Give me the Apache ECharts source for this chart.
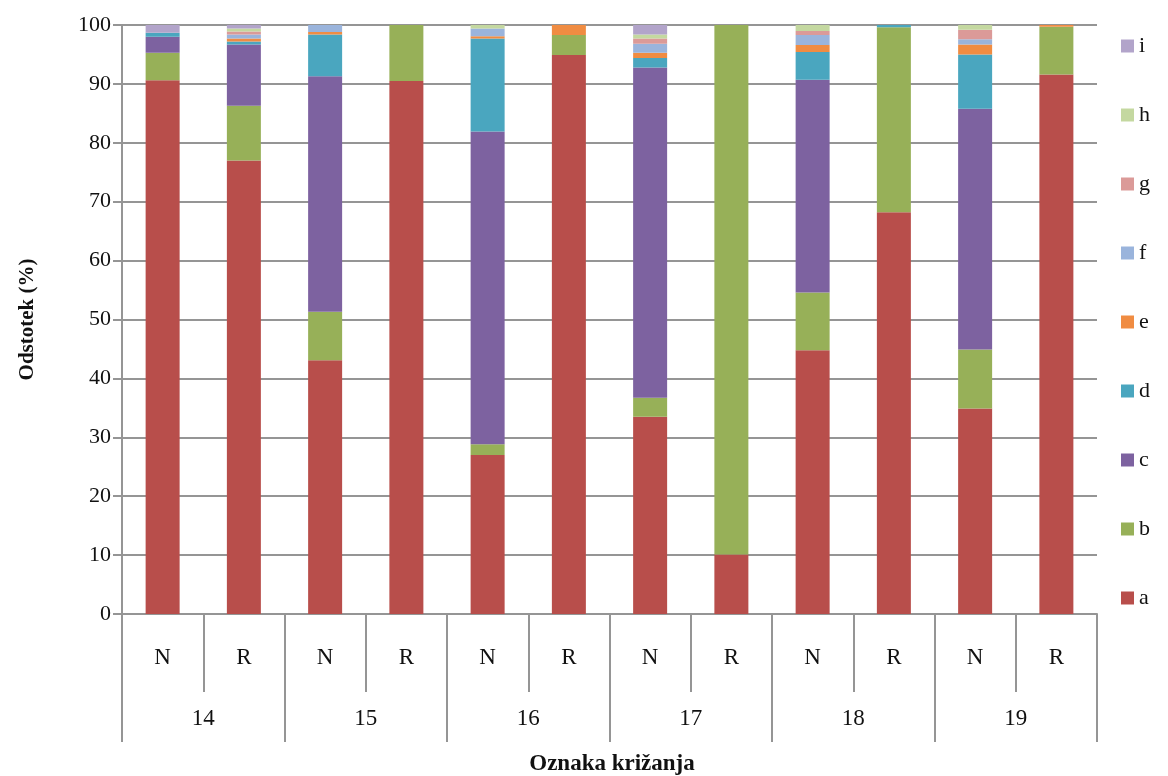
<!DOCTYPE html>
<html>
<head>
<meta charset="utf-8">
<script src="https://cdn.jsdelivr.net/npm/echarts@6/dist/echarts.min.js"></script>
<style>
  html, body { margin: 0; padding: 0; background: #fff; }
  #chart { width: 1168px; height: 776px; }
</style>
</head>
<body>
<div id="chart"></div>
<script>
// Category labels: treatment (N/R) within each cross (14–19)
const categories = ['N', 'R', 'N', 'R', 'N', 'R', 'N', 'R', 'N', 'R', 'N', 'R'];
const groups = ['14', '15', '16', '17', '18', '19'];
const yTicks = [0, 10, 20, 30, 40, 50, 60, 70, 80, 90, 100];

// Share (%) of each class per bar
const a = [90.6, 77.0, 43.1, 90.5, 27.0, 94.9, 33.5, 10.1, 44.8, 68.2, 34.9, 91.6];
const b = [4.7, 9.3, 8.2, 9.5, 1.8, 3.4, 3.2, 89.9, 9.8, 31.4, 10.0, 8.1];
const c = [2.7, 10.4, 40.0, 0, 53.1, 0, 56.1, 0, 36.1, 0, 40.9, 0];
const d = [0.7, 0.5, 7.1, 0, 15.8, 0, 1.6, 0, 4.7, 0.4, 9.2, 0];
const e = [0, 0.5, 0.4, 0, 0.4, 1.7, 0.9, 0, 1.2, 0, 1.7, 0.3];
const f = [0, 0.7, 1.2, 0, 1.3, 0, 1.5, 0, 1.7, 0, 0.9, 0];
const g = [0, 0.5, 0, 0, 0, 0, 0.9, 0, 0.7, 0, 1.6, 0];
const h = [0, 0.5, 0, 0, 0.6, 0, 0.7, 0, 1.0, 0, 0.8, 0];
const i = [1.3, 0.6, 0, 0, 0, 0, 1.6, 0, 0, 0, 0, 0];

const seriesNames = ['a', 'b', 'c', 'd', 'e', 'f', 'g', 'h', 'i'];
const seriesData = [a, b, c, d, e, f, g, h, i];
const colors = ['#B84E4B', '#97B058', '#7D62A0', '#4AA6BF', '#F08C42',
                '#9AB4DC', '#DB9A98', '#C4D8A0', '#B2A4CA'];

const FONT = '"Liberation Serif", "Times New Roman", serif';
const GRAY = '#959595';

const chart = echarts.init(document.getElementById('chart'));

chart.setOption({
  backgroundColor: '#ffffff',
  animation: false,
  textStyle: { fontFamily: FONT },
  grid: { left: 122, right: 71, top: 25, bottom: 162, containLabel: false },
  legend: {
    orient: 'vertical',
    left: 1116,
    top: 30,
    itemWidth: 13,
    itemHeight: 13,
    itemGap: 47,
    data: seriesNames.slice().reverse(),
    textStyle: { fontFamily: FONT, fontSize: 22, color: '#111' },
    icon: 'rect'
  },
  xAxis: [
    {
      type: 'category',
      data: categories,
      position: 'bottom',
      axisLine: { show: true, lineStyle: { color: GRAY, width: 2 } },
      axisTick: { show: true, interval: 0, length: 78, lineStyle: { color: GRAY, width: 2 } },
      axisLabel: { interval: 0, margin: 32, fontSize: 23, color: '#111', fontFamily: FONT },
      splitLine: { show: false }
    },
    {
      type: 'category',
      data: groups,
      position: 'bottom',
      axisLine: { show: false },
      axisTick: { show: true, interval: 0, length: 128, lineStyle: { color: GRAY, width: 2 } },
      axisLabel: { interval: 0, margin: 93, fontSize: 23, color: '#111', fontFamily: FONT },
      splitLine: { show: false }
    }
  ],
  yAxis: {
    type: 'value',
    min: yTicks[0],
    max: yTicks[yTicks.length - 1],
    interval: 10,
    name: 'Odstotek (%)',
    nameLocation: 'middle',
    nameRotate: 90,
    nameGap: 84,
    nameTextStyle: { fontFamily: FONT, fontSize: 21, fontWeight: 'bold', color: '#111' },
    axisLine: { show: true, lineStyle: { color: GRAY, width: 2 } },
    axisTick: { show: true, length: 9, lineStyle: { color: GRAY, width: 2 } },
    axisLabel: { margin: 11, fontSize: 22, color: '#111', fontFamily: FONT },
    splitLine: { show: true, lineStyle: { color: GRAY, width: 2 } }
  },
  graphic: [
    {
      type: 'text',
      x: 612,
      y: 764,
      style: {
        text: 'Oznaka križanja',
        fontFamily: FONT,
        fontSize: 23,
        fontWeight: 'bold',
        fill: '#111',
        textAlign: 'center',
        textVerticalAlign: 'middle'
      }
    }
  ],
  series: seriesNames.map((name, k) => ({
    name: name,
    type: 'bar',
    stack: 'total',
    xAxisIndex: 0,
    barWidth: 34,
    data: seriesData[k],
    itemStyle: { color: colors[k] },
    emphasis: { disabled: true }
  }))
});
</script>
</body>
</html>
